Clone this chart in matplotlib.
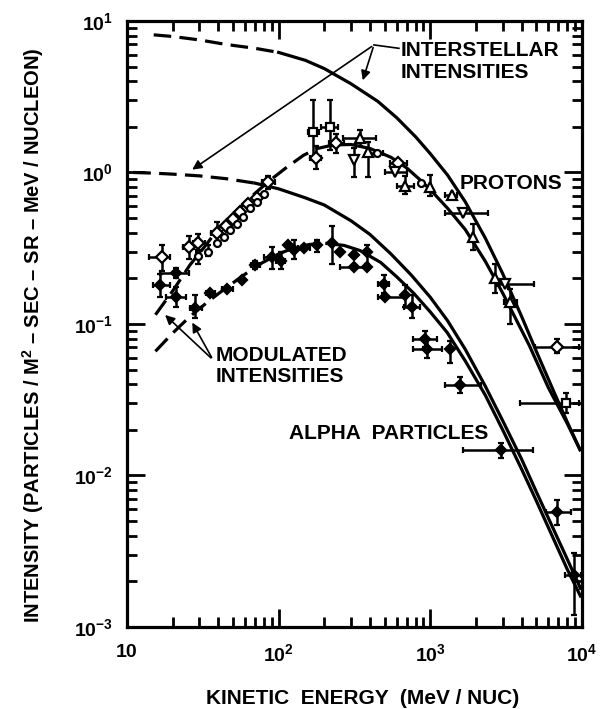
import numpy as np
import matplotlib.pyplot as plt

plt.rcParams['font.family'] = ['Liberation Sans', 'DejaVu Sans']
plt.rcParams['font.weight'] = 'bold'
plt.rcParams['mathtext.fontset'] = 'custom'
plt.rcParams['mathtext.bf'] = 'Liberation Sans:bold'
plt.rcParams['mathtext.rm'] = 'Liberation Sans:bold'
plt.rcParams['mathtext.default'] = 'bf'

# curves (MeV/nuc, intensity)
p_is_E = [15, 20, 30, 45, 70, 100, 150, 200, 300, 450, 600, 800, 1000, 1300, 1700, 2300, 3000, 4000, 5000, 6500, 8000, 9700]
p_is_I = [8.1, 7.9, 7.5, 7.0, 6.6, 6.2, 5.5, 4.85, 3.85, 2.95, 2.3, 1.72, 1.33, 0.96, 0.64, 0.37, 0.215, 0.112, 0.066, 0.036, 0.0225, 0.0148]
a_is_E = [11, 15, 20, 30, 45, 70, 100, 150, 200, 300, 400, 550, 750, 1000, 1300, 1700, 2300, 3000, 4000, 5000, 6500, 8000, 9770]
a_is_I = [1.0, 0.99, 0.975, 0.95, 0.91, 0.85, 0.78, 0.68, 0.61, 0.48, 0.39, 0.29, 0.21, 0.15, 0.105, 0.068, 0.039, 0.023, 0.0128, 0.0078, 0.0044, 0.0028, 0.0018]
p_mod_E = [15.4, 20, 26, 33, 41, 55, 70, 88, 110, 146, 180, 230, 300, 400, 550, 700, 850, 1000, 1300, 1700, 2300, 3000, 3500, 4500, 6000, 8000, 9700]
p_mod_I = [0.115, 0.165, 0.245, 0.33, 0.44, 0.58, 0.73, 0.89, 1.06, 1.30, 1.44, 1.52, 1.53, 1.44, 1.26, 1.07, 0.90, 0.77, 0.58, 0.42, 0.26, 0.16, 0.118, 0.072, 0.038, 0.022, 0.0148]
a_mod_E = [15.4, 20, 26, 35, 46, 60, 76, 100, 126, 160, 208, 270, 345, 470, 600, 775, 1000, 1290, 1700, 2300, 3000, 4000, 5000, 6500, 8000, 9770]
a_mod_I = [0.066, 0.087, 0.112, 0.143, 0.176, 0.213, 0.25, 0.29, 0.318, 0.335, 0.34, 0.33, 0.305, 0.255, 0.205, 0.16, 0.12, 0.088, 0.057, 0.034, 0.020, 0.011, 0.0068, 0.0038, 0.0024, 0.0016]

# data points: (E, I, E_lo, E_hi, I_lo, I_hi)
p_diamonds = [
    (17, 0.275, 13.9, 19.3, 0.225, 0.33),
    (25.5, 0.32, 23.5, 27.5, 0.27, 0.38),
    (29.4, 0.34, 27.2, 32.5, 0.30, 0.39),
    (39, 0.40, 36, 42, 0.35, 0.47),
    (45, 0.44, 45, 45, 0.44, 0.44),
    (50, 0.49, 50, 50, 0.49, 0.49),
    (56, 0.55, 56, 56, 0.55, 0.55),
    (63, 0.62, 63, 63, 0.62, 0.62),
    (72, 0.68, 72, 72, 0.68, 0.68),
    (85, 0.86, 78, 95, 0.78, 0.95),
    (175, 1.24, 162, 190, 1.05, 1.5),
    (240, 1.56, 215, 270, 1.35, 1.8),
    (614, 1.15, 540, 700, 1.15, 1.15),
    (6800, 0.071, 4900, 9600, 0.064, 0.079),
]
p_circles = [
    (29.4, 0.28, 29.4, 29.4, 0.25, 0.31),
    (34.2, 0.30, 34.2, 34.2, 0.28, 0.33),
    (39, 0.34, 39, 39, 0.34, 0.34),
    (43.4, 0.375, 43.4, 43.4, 0.375, 0.375),
    (48, 0.415, 48, 48, 0.415, 0.415),
    (53, 0.46, 53, 53, 0.46, 0.46),
    (58, 0.51, 58, 58, 0.51, 0.51),
    (65, 0.58, 65, 65, 0.58, 0.58),
    (72, 0.64, 72, 72, 0.64, 0.64),
    (80, 0.72, 80, 80, 0.72, 0.72),
    (442, 1.34, 400, 490, 1.34, 1.34),
    (871, 0.85, 871, 871, 0.85, 0.85),
]
p_squares = [
    (169, 1.86, 155, 185, 1.2, 3.0),
    (218, 2.0, 190, 245, 1.4, 3.0),
    (7840, 0.030, 3900, 9600, 0.026, 0.035),
]
p_up = [
    (344, 1.68, 265, 440, 1.5, 1.9),
    (389, 1.37, 389, 389, 0.94, 1.6),
    (680, 0.81, 600, 780, 0.72, 0.95),
    (993, 0.80, 993, 993, 0.70, 0.96),
    (1380, 0.71, 1250, 1500, 0.71, 0.71),
    (1920, 0.377, 1920, 1920, 0.31, 0.46),
    (2670, 0.20, 2670, 2670, 0.16, 0.25),
    (3350, 0.14, 3050, 3700, 0.10, 0.17),
]
p_down = [
    (316, 1.21, 316, 316, 0.93, 1.45),
    (583, 1.01, 500, 700, 1.01, 1.01),
    (1650, 0.54, 1250, 2400, 0.54, 0.54),
    (3100, 0.185, 2750, 4800, 0.185, 0.185),
]
alphas = [
    (16.6, 0.18, 14.9, 19.3, 0.15, 0.215),
    (21, 0.216, 16.6, 25.5, 0.20, 0.235),
    (21, 0.151, 18.1, 24.6, 0.13, 0.175),
    (28.2, 0.127, 26, 31, 0.11, 0.155),
    (35.4, 0.161, 33, 38, 0.161, 0.161),
    (45.6, 0.169, 42, 50, 0.169, 0.169),
    (57, 0.195, 57, 57, 0.195, 0.195),
    (70, 0.245, 66, 75, 0.23, 0.26),
    (90, 0.275, 80, 101, 0.23, 0.32),
    (103, 0.26, 96, 110, 0.23, 0.30),
    (116, 0.33, 116, 116, 0.33, 0.33),
    (126, 0.31, 126, 126, 0.27, 0.36),
    (146, 0.316, 135, 160, 0.316, 0.316),
    (179, 0.33, 179, 179, 0.30, 0.36),
    (224, 0.34, 224, 224, 0.25, 0.44),
    (255, 0.30, 255, 255, 0.30, 0.30),
    (312, 0.285, 312, 312, 0.285, 0.285),
    (382, 0.30, 382, 382, 0.25, 0.33),
    (312, 0.239, 255, 382, 0.239, 0.239),
    (382, 0.239, 382, 382, 0.239, 0.239),
    (492, 0.185, 450, 530, 0.16, 0.21),
    (505, 0.151, 450, 690, 0.151, 0.151),
    (684, 0.155, 684, 684, 0.13, 0.18),
    (760, 0.13, 670, 860, 0.11, 0.155),
    (920, 0.079, 770, 1100, 0.07, 0.09),
    (946, 0.068, 770, 1200, 0.06, 0.078),
    (1345, 0.068, 1345, 1345, 0.055, 0.077),
    (1570, 0.0395, 1250, 2150, 0.035, 0.045),
    (2920, 0.0147, 1650, 4770, 0.013, 0.0165),
    (6800, 0.0057, 5800, 8400, 0.0047, 0.0069),
    (8850, 0.0022, 7700, 9800, 0.0012, 0.0031),
]

fig = plt.figure(figsize=(6.07, 7.09), dpi=100)
ax = fig.add_axes([0.2092, 0.1157, 0.7496, 0.8547])
ax.set_xscale('log')
ax.set_yscale('log')
ax.set_xlim(10, 1e4)
ax.set_ylim(1e-3, 10)

def curve(E, I, split):
    E = np.array(E); I = np.array(I)
    k = (E <= split).sum()
    ax.plot(E[:k], I[:k], color='k', lw=2.3, dashes=(5.5, 2.6), zorder=2)
    ax.plot(E[k - 1:], I[k - 1:], color='k', lw=2.3, zorder=2)

curve(p_is_E, p_is_I, 110)
curve(a_is_E, a_is_I, 80)
curve(p_mod_E, p_mod_I, 180)
curve(a_mod_E, a_mod_I, 210)

def points(rows, marker, face, size):
    r = np.array(rows)
    E, I = r[:, 0], r[:, 1]
    ax.errorbar(E, I, xerr=[E - r[:, 2], r[:, 3] - E], yerr=[I - r[:, 4], r[:, 5] - I],
                fmt=marker, mfc=face, mec='k', mew=1.6, ms=size, ecolor='k',
                elinewidth=1.8, capsize=2.5, capthick=1.8, zorder=3)

points(p_diamonds, 'D', 'white', 6.5)
points(p_circles, 'o', 'white', 5)
points(p_squares, 's', 'white', 6)
points(p_up, '^', 'white', 7.5)
points(p_down, 'v', 'white', 7.5)
points(alphas, 'D', 'black', 5.5)

# labels and arrows
ax.text(640, 5.4, 'INTERSTELLAR\nINTENSITIES', fontsize=15, va='center', ha='left', linespacing=1.15)
ax.plot([425, 621], [6.95, 6.6], color='k', lw=1.2)
ax.annotate('', xy=(26, 1.02), xytext=(425, 6.95),
            arrowprops=dict(arrowstyle='-|>', color='k', lw=1.2, mutation_scale=14))
ax.annotate('', xy=(354, 3.9), xytext=(425, 6.95),
            arrowprops=dict(arrowstyle='-|>', color='k', lw=1.2, mutation_scale=14))
ax.text(38.6, 0.053, 'MODULATED\nINTENSITIES', fontsize=15, va='center', ha='left', linespacing=1.15)
ax.annotate('', xy=(17.3, 0.118), xytext=(36.9, 0.058),
            arrowprops=dict(arrowstyle='-|>', color='k', lw=1.2, mutation_scale=14))
ax.annotate('', xy=(26.4, 0.106), xytext=(36.9, 0.058),
            arrowprops=dict(arrowstyle='-|>', color='k', lw=1.2, mutation_scale=14))
ax.text(1566, 0.84, 'PROTONS', fontsize=15, va='center', ha='left')
ax.text(117, 0.019, 'ALPHA  PARTICLES', fontsize=15, va='center', ha='left')

ax.set_xticks([10, 100, 1000, 1e4])
ax.set_xticklabels(['10', '10$^2$', '10$^3$', '10$^4$'])
ax.set_yticks([1e-3, 1e-2, 1e-1, 1, 10])
ax.set_yticklabels(['10$^{-3}$', '10$^{-2}$', '10$^{-1}$', '10$^0$', '10$^1$'])
ax.tick_params(which='both', direction='in', top=True, right=True, width=2, labelsize=14)
ax.tick_params(which='major', length=13, pad=10)
ax.tick_params(which='minor', length=7)
ax.tick_params(axis='x', which='major', pad=12)
for s in ax.spines.values():
    s.set_linewidth(2.3)

fig.text(0.598, 0.0155, 'KINETIC  ENERGY  (MeV / NUC)', fontsize=15, ha='center', va='center')
fig.text(0.054, 0.527, 'INTENSITY (PARTICLES / M$^2$ \u2013 SEC \u2013 SR \u2013 MeV / NUCLEON)',
         fontsize=14.5, ha='center', va='center', rotation=90)

fig.savefig('out.png', dpi=100)
